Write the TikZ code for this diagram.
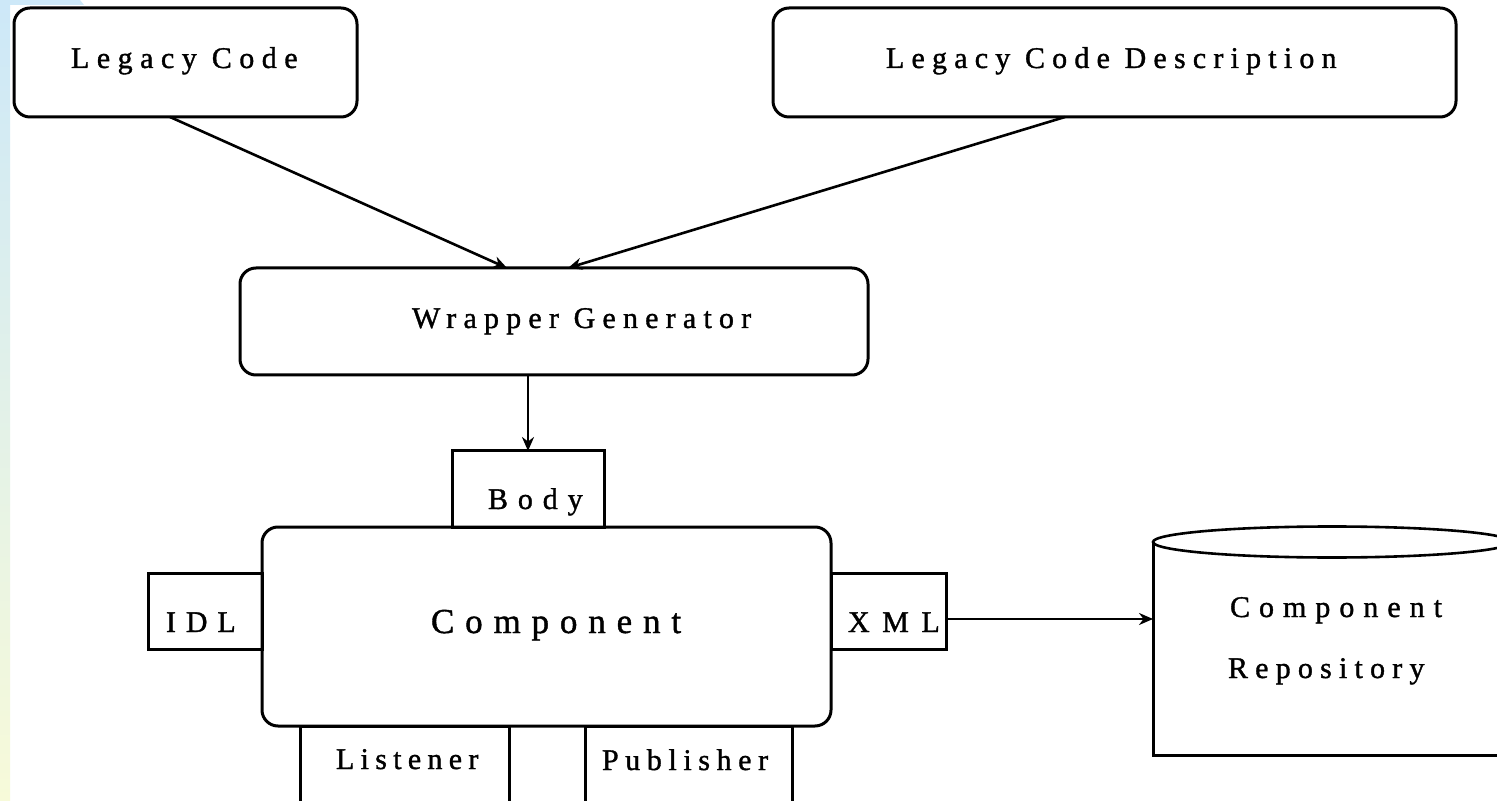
\documentclass[tikz,border=0pt]{standalone}
\usepackage{fontspec}
\setmainfont{Liberation Serif}[FakeBold=1.2]
\usetikzlibrary{arrows.meta}
\definecolor{stripblue}{HTML}{CDE8F8}
\definecolor{stripyellow}{HTML}{F7FAD9}
% letter-spaced label text
\newcommand\spaced[2]{{\addfontfeature{LetterSpace=#1}#2}}

\begin{document}
\begin{tikzpicture}[x=0.5pt,y=-0.5pt,
  every node/.style={inner sep=0pt,outer sep=0pt},
  rbox/.style={draw,line width=1.5pt,rounded corners=8pt},
  sbox/.style={draw,line width=1.5pt},
  lbl/.style={anchor=base west,font=\fontsize{15pt}{18pt}\selectfont},
  biglbl/.style={anchor=base west,font=\fontsize{17.5pt}{20pt}\selectfont},
  conn/.style={line width=1.3pt},
  arr/.style={conn,-{Stealth[length=7pt,width=6pt]}}]

  % page area
  \clip (0,0) rectangle (1497,801);
  \fill[white] (0,0) rectangle (1497,801);

  % coloured margin strip
  \shade[top color=stripblue,bottom color=stripyellow] (0,0) rectangle (10,801);
  \fill[stripblue] (0,0) -- (80,0) -- (84,5) -- (0,5) -- cycle;

  % boxes
  \node[rbox,minimum width=171.5pt,minimum height=54.5pt] (lc)  at (185.5,62.5) {};
  \node[rbox,minimum width=341.5pt,minimum height=54.5pt] (lcd) at (1114.5,62.5) {};
  \node[rbox,minimum width=314pt,minimum height=53.5pt]   (wg)  at (554,321.5) {};
  \node[sbox,minimum width=76pt,minimum height=38pt]      (body) at (528,489) {};
  \node[rbox,minimum width=284.5pt,minimum height=99.5pt] (comp) at (546.5,626.5) {};
  \node[sbox,minimum width=57pt,minimum height=38pt]      (idl) at (205,611) {};
  \node[sbox,minimum width=57.5pt,minimum height=38pt]    (xml) at (888.5,611) {};
  \node[sbox,minimum width=104.5pt,minimum height=52pt]   (lis) at (404.5,778) {};
  \node[sbox,minimum width=103.5pt,minimum height=52pt]   (pub) at (688.5,778) {};

  % repository cylinder
  \node[minimum width=179pt,minimum height=106.5pt] (repo) at (1332,648.5) {};
  \draw[line width=1.5pt] (repo.north west) -- (repo.south west) -- (repo.south east) -- (repo.north east);
  \draw[line width=1.3pt] (repo.north) ellipse [x radius=89.5pt,y radius=7.75pt];

  % labels
  \node[lbl] (tlc)   at (71,68)    {\spaced{25}{Legacy Code}};
  \node[lbl] (tlcd)  at (886,68)   {\spaced{24}{Legacy Code Description}};
  \node[lbl] (twg)   at (412,328)  {\spaced{24}{Wrapper Generator}};
  \node[lbl] (tbody) at (488,509)  {\spaced{33}{Body}};
  \node[biglbl] (tcomp) at (431,633) {\spaced{31}{Component}};
  \node[lbl] (tidl)  at (166,632)  {\spaced{33}{IDL}};
  \node[lbl] (txml)  at (848,632)  {\spaced{42}{XML}};
  \node[lbl] (tlis)  at (336,769)  {\spaced{21}{Listener}};
  \node[lbl] (tpub)  at (602,770)  {\spaced{22}{Publisher}};
  \node[lbl] (trepa) at (1230,617) {\spaced{30}{Component}};
  \node[lbl] (trepb) at (1228,678) {\spaced{24}{Repository}};

  % connectors
  \draw[arr] ([xshift=-7.75pt]lc.south) -- ([xshift=-23.5pt]wg.north);
  \draw[arr] ([xshift=-24.75pt]lcd.south) -- ([xshift=7pt]wg.north);
  \draw[arr] (wg.south -| body.north) -- (body.north);
  \draw[arr] ([yshift=-4pt]xml.east) -- ([yshift=-4pt]xml.east -| repo.west);
\end{tikzpicture}
\end{document}
